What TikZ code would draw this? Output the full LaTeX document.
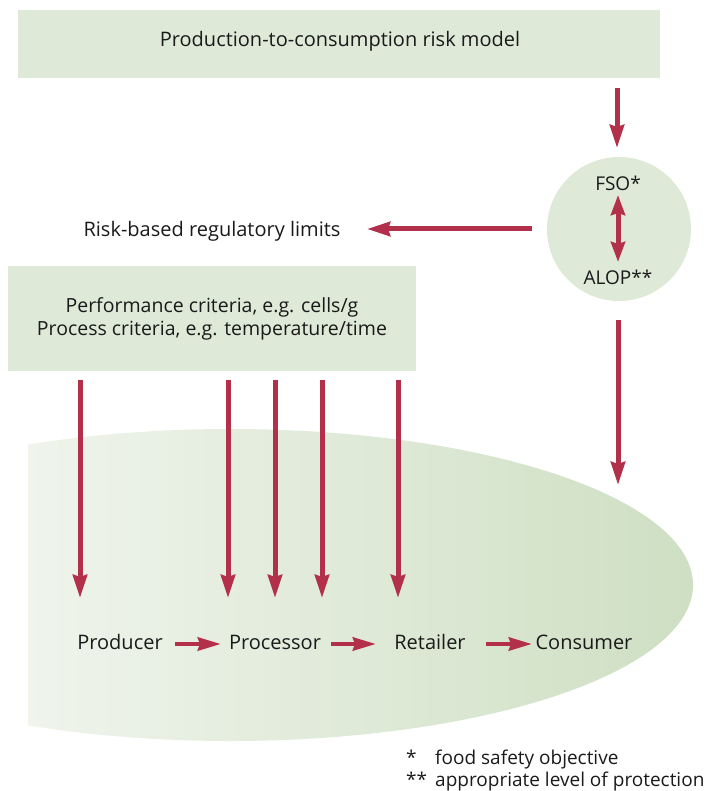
\documentclass[tikz,border=0pt]{standalone}
\usepackage{fontspec}
\setmainfont{Open Sans}
\usetikzlibrary{arrows.meta}
\definecolor{panel}{HTML}{DFE9D8}
\definecolor{arrowred}{HTML}{B3304A}
\definecolor{inkc}{HTML}{1A1A1A}
\definecolor{fadeleft}{HTML}{F0F4EC}
\definecolor{faderight}{HTML}{CEDFC3}
\tikzset{
  panelbox/.style={fill=panel, draw=none, inner sep=0pt},
  lbl/.style={text=inkc, inner sep=0pt, font=\fontsize{20}{24}\selectfont},
  smalllbl/.style={lbl, font=\fontsize{19}{23}\selectfont},
  redarrow/.style={draw=arrowred, line width=5pt, -{Stealth[length=23pt,width=14pt,inset=2pt]}},
  twoway/.style={draw=arrowred, line width=5pt, {Stealth[length=20pt,width=14pt,inset=2pt]}-{Stealth[length=20pt,width=14pt,inset=2pt]}},
  flowarrow/.style={draw=arrowred, line width=4.5pt, -{Stealth[length=23pt,width=13pt,inset=2pt]}},
}
\newcommand{\notemark}[1]{\makebox[29pt][l]{#1}}
\begin{document}
\begin{tikzpicture}[x=1pt,y=-1pt]
\useasboundingbox (0,0) rectangle (708,791);

% supply-chain field with a left-to-right fade
\begin{scope}
  \clip (28,0) rectangle (708,791);
  \clip (230,585) ellipse [x radius=463, y radius=156];
  \shade[left color=fadeleft, right color=faderight] (28,425) rectangle (694,745);
\end{scope}

% top panel
\node[panelbox, minimum width=642pt, minimum height=68pt, anchor=north west] (model) at (18,10) {};
\node[lbl] (modeltext) at (340,41) {Production-to-consumption risk model};

% FSO / ALOP disc
\node[circle, fill=panel, minimum size=144pt, inner sep=0pt] (disc) at (619,229) {};
\node[smalllbl] (fso) at (618,183) {FSO*};
\node[smalllbl] (alop) at (618,277) {ALOP**};

% criteria panel
\node[panelbox, minimum width=408pt, minimum height=105pt, anchor=north west] (criteria) at (8,266) {};
\node[lbl, align=center, font=\fontsize{19.5}{23.5}\selectfont] (crittext) at (212,319)
  {Performance criteria, e.g. cells/g\\Process criteria, e.g. temperature/time};

% limits label
\node[lbl] (limits) at (212,231) {Risk-based regulatory limits};

% chain labels
\node[lbl] (producer) at (120,642) {Producer};
\node[lbl] (processor) at (275,642) {Processor};
\node[lbl] (retailer) at (430,642) {Retailer};
\node[lbl] (consumer) at (584,642) {Consumer};

% connector end points
\coordinate (m0) at (617,88);   \coordinate (m1) at (617,148);
\coordinate (f0) at (618,195);  \coordinate (f1) at (618,262);
\coordinate (l0) at (532,229);  \coordinate (l1) at (367,229);
\coordinate (a0) at (618,320);  \coordinate (a1) at (618,485);
\coordinate (c1) at (80,380);   \coordinate (d1) at (80,598);
\coordinate (c2) at (228,380);  \coordinate (d2) at (228,598);
\coordinate (c3) at (275,380);  \coordinate (d3) at (275,598);
\coordinate (c4) at (322,380);  \coordinate (d4) at (322,598);
\coordinate (c5) at (398,380);  \coordinate (d5) at (398,598);
\coordinate (p0) at (175,644);  \coordinate (p1) at (221,644);
\coordinate (q0) at (331,644);  \coordinate (q1) at (376,644);
\coordinate (r0) at (486,644);  \coordinate (r1) at (532,644);

\draw[redarrow] (m0) -- (m1);
\draw[twoway] (f0) -- (f1);
\draw[redarrow] (l0) -- (l1);
\draw[redarrow] (a0) -- (a1);
\foreach \i in {1,...,5} { \draw[redarrow] (c\i) -- (d\i); }

% chain flow
\draw[flowarrow] (p0) -- (p1);
\draw[flowarrow] (q0) -- (q1);
\draw[flowarrow] (r0) -- (r1);

% footnotes
\node[smalllbl, anchor=base west] (note1) at (406,764) {\notemark{*}food safety objective};
\node[smalllbl, anchor=base west] (note2) at (406,786) {\notemark{**}appropriate level of protection};
\end{tikzpicture}
\end{document}
